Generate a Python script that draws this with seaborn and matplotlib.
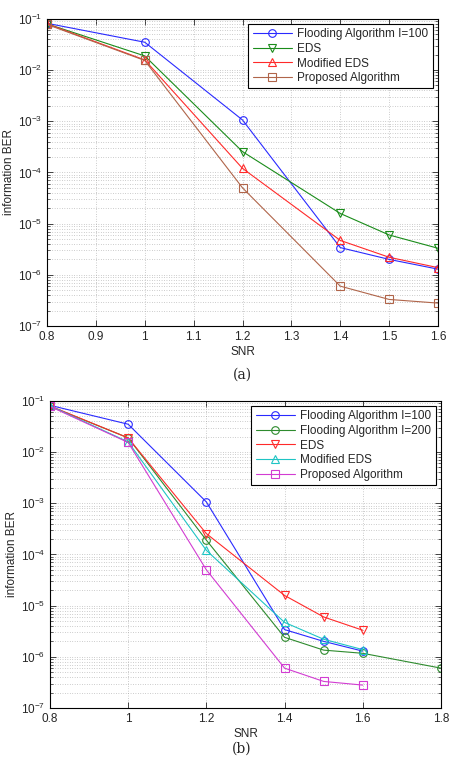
import numpy as np
import pandas as pd
import seaborn as sns
import matplotlib
matplotlib.use("Agg")
import matplotlib.pyplot as plt
from matplotlib.ticker import LogLocator, NullFormatter, LogFormatterSciNotation

# dados (a) e (b)
snr = [0.8, 1.0, 1.2, 1.4, 1.5, 1.6]
snr_200 = [0.8, 1.0, 1.2, 1.4, 1.5, 1.6, 1.8]
flood_100 = [0.082, 0.035, 1.06e-3, 3.4e-6, 2.0e-6, 1.29e-6]
flood_200 = [0.078, 0.019, 1.9e-4, 2.4e-6, 1.35e-6, 1.17e-6, 6.0e-7]
eds = [0.080, 0.0189, 2.55e-4, 1.58e-5, 6.0e-6, 3.3e-6]
mod_eds = [0.080, 0.0158, 1.2e-4, 4.7e-6, 2.2e-6, 1.38e-6]
proposed = [0.078, 0.0154, 5.0e-5, 6.0e-7, 3.3e-7, 2.8e-7]

xticks_a = [0.8, 0.9, 1.0, 1.1, 1.2, 1.3, 1.4, 1.5, 1.6]
xticks_b = [0.8, 1.0, 1.2, 1.4, 1.6, 1.8]
xlabels_a = ["0.8", "0.9", "1", "1.1", "1.2", "1.3", "1.4", "1.5", "1.6"]
xlabels_b = ["0.8", "1", "1.2", "1.4", "1.6", "1.8"]

sns.set_style("ticks")
plt.rcParams["font.family"] = ["Liberation Sans", "DejaVu Sans"]
plt.rcParams["font.size"] = 8.5

fig = plt.figure(figsize=(4.5, 7.62), dpi=100)
ax_a = fig.add_axes([0.1044, 0.5722, 0.869, 0.403])
ax_b = fig.add_axes([0.111, 0.0709, 0.869, 0.403])


def serie(ax, x, y, label, color, marker):
    df = pd.DataFrame({"SNR": x, "BER": y})
    sns.lineplot(data=df, x="SNR", y="BER", ax=ax, label=label, color=color,
                 marker=marker, markersize=5.5, markerfacecolor="none",
                 markeredgecolor=color, markeredgewidth=0.8, linewidth=0.8)


def formatar(ax, xmax, ticks, labels):
    ax.set_yscale("log")
    ax.set_xlim(0.8, xmax)
    ax.set_ylim(1e-7, 1e-1)
    ax.set_xticks(ticks)
    ax.set_xticklabels(labels)
    ax.yaxis.set_major_locator(LogLocator(base=10, numticks=10))
    ax.yaxis.set_minor_locator(LogLocator(base=10, subs=np.arange(2, 10), numticks=20))
    ax.yaxis.set_major_formatter(LogFormatterSciNotation())
    ax.yaxis.set_minor_formatter(NullFormatter())
    ax.tick_params(which="both", direction="in", top=True, right=True, labelsize=8.5)
    ax.tick_params(which="major", length=4, width=0.6)
    ax.tick_params(which="minor", length=2, width=0.5)
    ax.grid(which="major", axis="both", color="0.62", linestyle=(0, (1, 2.5)), linewidth=0.5)
    ax.grid(which="minor", axis="y", color="0.62", linestyle=(0, (1, 2.5)), linewidth=0.5)
    for s in ax.spines.values():
        s.set_linewidth(0.8)
        s.set_color("black")
    ax.set_xlabel("SNR", fontsize=8.5, labelpad=2)
    ax.set_ylabel("information BER", fontsize=8.5, labelpad=2)
    leg = ax.legend(loc="upper right", fancybox=False, edgecolor="black", framealpha=1,
                    fontsize=8.5, handlelength=3.3, labelspacing=0.22, borderaxespad=0.45,
                    borderpad=0.35, handletextpad=0.5)
    leg.get_frame().set_linewidth(0.8)


# (a)
serie(ax_a, snr, flood_100, "Flooding Algorithm I=100", "#2a2aff", "o")
serie(ax_a, snr, eds, "EDS", "#1a8c1a", "v")
serie(ax_a, snr, mod_eds, "Modified EDS", "#ff2a2a", "^")
serie(ax_a, snr, proposed, "Proposed Algorithm", "#b0654a", "s")
formatar(ax_a, 1.6, xticks_a, xlabels_a)

# (b)
serie(ax_b, snr, flood_100, "Flooding Algorithm I=100", "#2a2aff", "o")
serie(ax_b, snr_200, flood_200, "Flooding Algorithm I=200", "#2e8b2e", "o")
serie(ax_b, snr, eds, "EDS", "#ff2a2a", "v")
serie(ax_b, snr, mod_eds, "Modified EDS", "#1fc4c4", "^")
serie(ax_b, snr, proposed, "Proposed Algorithm", "#d23cd2", "s")
formatar(ax_b, 1.8, xticks_b, xlabels_b)

fig.text(0.538, 1 - 375 / 762, "(a)", ha="center", va="center", fontsize=10, family="DejaVu Serif")
fig.text(0.538, 1 - 749 / 762, "(b)", ha="center", va="center", fontsize=10, family="DejaVu Serif")

fig.savefig("out.png", dpi=100)
